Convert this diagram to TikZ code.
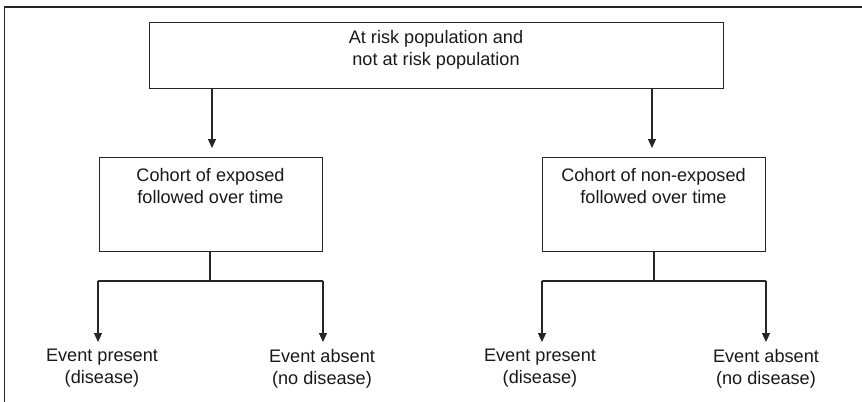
\documentclass[tikz,border=0pt]{standalone}
\usepackage{fontspec}
\setmainfont{Liberation Sans}
\usetikzlibrary{arrows.meta}
\begin{document}
\begin{tikzpicture}[x=1bp,y=-1bp,
  ln/.style={draw=black!85, line width=1.2bp},
  boxnode/.style={ln, rectangle, inner sep=0pt, anchor=north west},
  txt/.style={align=center, font=\fontsize{18.2}{21.5}\selectfont, inner sep=0pt, text=black!90},
  arr/.style={ln, -{Triangle[width=8bp,length=9bp]}}]
\useasboundingbox (0,0) rectangle (862,401);
\clip (0,0) rectangle (862,401);
\fill[white] (0,0) rectangle (862,401);
\draw[ln] (4.5,7) rectangle (880,420);
% top box
\node[boxnode, minimum width=574bp, minimum height=66bp] (top) at (149,22) {};
\node[txt] (toptxt) at (436,50) {At risk population and\\not at risk population};
% cohort boxes
\node[boxnode, minimum width=223bp, minimum height=94bp] (cl) at (99,157) {};
\node[txt] (cltxt) at (210.5,186) {Cohort of exposed\\followed over time};
\node[boxnode, minimum width=223bp, minimum height=94bp] (cr) at (542,157) {};
\node[txt] (crtxt) at (653.5,186) {Cohort of non-exposed\\followed over time};
% arrows top -> cohorts
\coordinate (tl) at (212,88);
\coordinate (tr) at (652,88);
\draw[arr] (tl) -- (212,148);
\draw[arr] (tr) -- (652,148);
% branching left
\coordinate (bl) at (210,281);
\coordinate (bll) at (98,281);
\coordinate (blr) at (323,281);
\node[txt] (e1) at (102,368) {Event present\\(disease)};
\node[txt] (e2) at (322,369) {Event absent\\(no disease)};
\draw[ln] (cl.south -| bl) -- (bl);
\draw[ln] (bll) -- (blr);
\draw[arr] (bll) -- (98,342);
\draw[arr] (blr) -- (323,342);
% branching right
\coordinate (br) at (654,281);
\coordinate (brl) at (542,281);
\coordinate (brr) at (766,281);
\node[txt] (e3) at (540,368) {Event present\\(disease)};
\node[txt] (e4) at (766,369) {Event absent\\(no disease)};
\draw[ln] (cr.south -| br) -- (br);
\draw[ln] (brl) -- (brr);
\draw[arr] (brl) -- (542,342);
\draw[arr] (brr) -- (766,342);
\end{tikzpicture}
\end{document}
